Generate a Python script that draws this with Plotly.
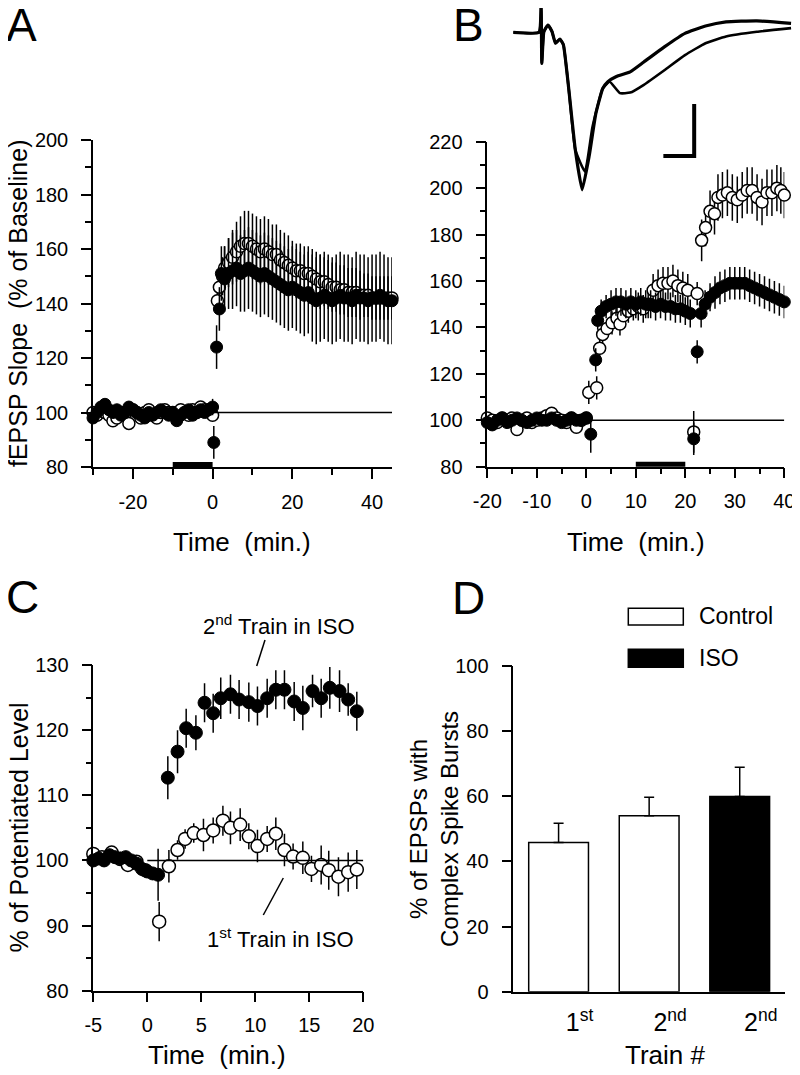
import plotly.graph_objects as go

FONT = "Liberation Sans, Arial, Helvetica, sans-serif"
OFF = 8                      # page body margin of the browser
W, H = 800 - OFF, 1075 - OFF

# ---------------- Panel A data (fEPSP slope, % of baseline) ----------------
a_filled_t = [-30, -29, -28, -27, -26, -25, -24, -23, -22, -21, -20, -19, -18, -17, -16, -15,
              -14, -13, -12, -11, -10, -9, -8, -7, -6, -5, -4, -3, -2, -1, 0,
              0.3, 1.0, 1.7, 2.2,
              3, 4, 5, 6, 7, 8, 9, 10, 11, 12, 13, 14, 15, 16, 17, 18, 19, 20, 21, 22, 23, 24,
              25, 26, 27, 28, 29, 30, 31, 32, 33, 34, 35, 36, 37, 38, 39, 40, 41, 42, 43, 44, 45]
a_filled_y = [98, 100, 102, 103, 101, 100, 101, 99, 100, 102, 101, 100, 99, 98, 100, 99,
              100, 101, 100, 99, 100, 97, 99, 100, 101, 99, 100, 101, 100, 101, 102,
              89, 124, 138, 151,
              149, 151, 152, 153, 151, 152, 153, 152, 151, 150, 151, 150, 149, 148, 147, 146, 145, 146, 145, 144, 143, 144,
              142, 141, 142, 143, 142, 141, 142, 143, 142, 142, 141, 143, 142, 142, 141, 142, 142, 143, 142, 141, 141]
a_filled_e = [2, 2, 2, 2, 2, 2, 2, 2, 2, 2, 2, 2, 2, 2, 2, 2,
              2, 2, 2, 2, 2, 2, 2, 2, 2, 2, 2, 2, 2, 2, 3,
              6, 8, 8, 10,
              12, 13, 14, 14, 14, 15, 15, 15, 15, 15, 15, 15, 15, 15, 15, 15, 15, 15, 15, 15, 15, 15,
              16, 16, 16, 16, 16, 16, 16, 16, 16, 16, 16, 16, 16, 16, 16, 16, 16, 16, 16, 16, 16]

a_open_t = [-30, -29, -28, -27, -26, -25, -24, -23, -22, -21, -20, -19, -18, -17, -16, -15,
            -14, -13, -12, -11, -10, -9, -8, -7, -6, -5, -4, -3, -2, -1, 0,
            1.2, 1.7, 2.5,
            3, 4, 5, 6, 7, 8, 9, 10, 11, 12, 13, 14, 15, 16, 17, 18, 19, 20, 21, 22, 23, 24,
            25, 26, 27, 28, 29, 30, 31, 32, 33, 34, 35, 36, 37, 38, 39, 40, 41, 42, 43, 44, 45]
a_open_y = [100, 99, 101, 100, 99, 97, 98, 100, 99, 96, 101, 100, 98, 100, 101, 99,
            98, 100, 101, 100, 100, 99, 101, 100, 99, 101, 100, 102, 101, 101, 99,
            141, 146, 150,
            153, 155, 157, 159, 161, 162, 162, 161, 160, 159, 160, 159, 158, 158, 156, 155, 154, 153, 152, 152, 151, 151,
            150, 149, 148, 148, 147, 146, 146, 145, 145, 144, 144, 144, 143, 143, 143, 142, 142, 142, 142, 142, 142]
a_open_e = [2, 2, 2, 2, 2, 2, 2, 2, 2, 2, 2, 2, 2, 2, 2, 2,
            2, 2, 2, 2, 2, 2, 2, 2, 2, 2, 2, 2, 2, 2, 2,
            4, 5, 7,
            8, 9, 10, 11, 11, 12, 12, 12, 12, 12, 12, 12, 11, 11, 11, 11, 11, 10, 10, 10, 10, 10,
            10, 10, 10, 9, 9, 9, 9, 9, 9, 9, 9, 9, 9, 8, 8, 8, 8, 8, 8, 8, 8]
a_iso_period = [-10, 0]

# ---------------- Panel B data ----------------
b_filled_t = [-20, -19, -18, -17, -16, -15, -14, -13, -12, -11, -10, -9, -8, -7, -6, -5, -4, -3, -2, -1, 0,
              0.9, 1.9, 2.3,
              3, 4, 5, 6, 7, 8, 9, 10, 11, 12, 13, 14, 15, 16, 17, 18, 19, 20, 21,
              21.7, 22.4, 23.2,
              24, 25, 26, 27, 28, 29, 30, 31, 32, 33, 34, 35, 36, 37, 38, 39, 40]
b_filled_y = [99, 98, 100, 101, 99, 100, 101, 100, 99, 100, 101, 100, 100, 101, 100, 99, 100, 101, 100, 100, 101,
              94, 126, 143,
              147, 149, 150, 151, 151, 150, 151, 150, 151, 150, 150, 149, 150, 149, 149, 148, 148, 147, 146,
              92, 129.5, 146,
              150, 153, 155, 157, 158, 159, 159, 159, 159, 158, 157, 156, 155, 154, 153, 152, 151]
b_filled_e = [2, 2, 2, 2, 2, 2, 2, 2, 2, 2, 2, 2, 2, 2, 2, 2, 2, 2, 2, 2, 2,
              8, 5, 4,
              5, 5, 6, 6, 6, 6, 6, 6, 6, 6, 6, 6, 6, 6, 6, 6, 6, 6, 6,
              7, 5, 6,
              6, 6, 7, 7, 7, 7, 7, 7, 7, 7, 7, 7, 7, 7, 7, 7, 7]

b_open_t = [-20, -19, -18, -17, -16, -15, -14, -13, -12, -11, -10, -9, -8, -7, -6, -5, -4, -3, -2, -1, 0,
            0.5, 2.1, 2.7, 3.3, 4.2, 5.2, 6.2, 6.8, 7.5, 8.5, 9.5, 10.5, 11.5, 12.5, 13.5, 14.5, 15.5,
            16.5, 17.5, 18.5, 19.5, 20.5, 21.7, 22.4,
            23.3, 24.1, 25.0, 25.9, 26.6, 27.5, 28.5, 29.5, 30.5, 31.5, 32.5, 33.5, 34.5, 35.5,
            36.5, 37.5, 38.5, 39.3, 40.0]
b_open_y = [101, 100, 99, 101, 100, 101, 96, 100, 101, 99, 100, 101, 102, 103, 101, 100, 99, 101, 97, 100, 101,
            112, 114, 131, 137, 139.5, 142, 144, 141.5, 145, 147, 148, 149, 148, 150, 156, 158, 159,
            159, 160, 158, 157, 156, 95, 154.6,
            177.5, 183, 190, 189, 196, 197, 198, 196, 195, 197, 199, 199, 196, 194,
            198, 198, 200, 199, 197]
b_open_e = [2, 2, 2, 2, 2, 2, 2, 2, 2, 2, 2, 2, 2, 2, 2, 2, 2, 2, 2, 2, 2,
            5, 5, 4, 4, 4, 5, 5, 5, 5, 5, 5, 6, 6, 6, 7, 7, 7,
            7, 7, 7, 7, 7, 9, 5,
            9, 8, 9, 9, 10, 10, 10, 10, 10, 10, 10, 10, 10, 10,
            10, 10, 10, 10, 10]
b_iso_period = [10, 20]

# Example fEPSP traces (inset of B): time in ms, amplitude in mV
trace_common_t = [0.0, 2.5, 2.7, 2.77, 2.97, 3.37, 3.77, 4.1, 4.53, 4.87, 5.37, 6.03]
trace_common_v = [0.0, 0.0, 0.49, -0.6, 0.01, 0.14, 0.01, -0.21, -0.13, -0.24, -1.05, -2.26]
trace1_t = [6.7, 7.37, 8.03, 8.7, 9.2, 10.03, 11.37, 12.7, 14.7, 16.7, 18.7, 20.7, 23.7, 27.03]
trace1_v = [-3.03, -2.39, -1.56, -1.08, -0.95, -0.85, -0.76, -0.57, -0.28, -0.02, 0.12, 0.2, 0.22, 0.17]
trace2_t = [6.97, 7.7, 8.7, 9.37, 10.37, 11.37, 12.7, 14.7, 16.7, 18.7, 20.7, 23.7, 27.03]
trace2_v = [-2.68, -1.82, -1.08, -0.95, -1.17, -1.16, -1.01, -0.73, -0.44, -0.21, -0.08, 0.01, 0.08]
scalebar_origin = [17.6, -2.38]   # corner (ms, mV)
scalebar_ms = 3
scalebar_mv = 1

# ---------------- Panel C data ----------------
c_base_t = [-5, -4.5, -4, -3.5, -3, -2.5, -2, -1.5, -1, -0.5, 0, 0.5, 1.0]
c_base_y = [100, 100.3, 100, 100.8, 100.5, 100.3, 100.5, 100, 99.5, 98.7, 98.3, 98, 97.8]
c_base_e = [1, 1, 1, 1, 1, 1, 1, 1, 1, 1, 1, 1, 4]
c_obase_t = [-5, -4.2, -3.3, -2.5, -1.8, -1, -0.2]
c_obase_y = [101, 100.5, 101.2, 100.2, 99.3, 99.8, 98.5]
c_obase_e = [1, 1, 1, 1, 1, 1, 1]
c_train2_t = [1.9, 2.8, 3.6, 4.5, 5.3, 6.1, 6.8, 7.7, 8.5, 9.4, 10.2, 11.1, 11.9, 12.7, 13.6,
              14.4, 15.3, 16.1, 16.9, 17.8, 18.6, 19.4]
c_train2_y = [112.7, 116.7, 120.3, 119.6, 124.2, 122.6, 124.9, 125.5, 124.7, 124.3, 123.7, 124.9,
              126.2, 126.2, 124.4, 123.4, 126, 124.9, 126.5, 126, 124.7, 122.9]
c_train2_e = [3.3, 3.3, 3, 2.7, 3, 3, 3.2, 3, 3, 3, 3, 3, 3, 3, 3, 3.4, 2.5, 3, 3.2, 3.2, 2.5, 3]
c_train1_t = [1.1, 2.0, 2.8, 3.5, 4.3, 5.2, 6.1, 7.0, 7.7, 8.6, 9.4, 10.2, 11.1, 11.9, 12.7, 13.5,
              14.4, 15.2, 16.1, 16.8, 17.7, 18.6, 19.4]
c_train1_y = [90.6, 99.1, 101.6, 103.3, 104.2, 103.9, 104.6, 106.1, 105, 105.5, 103.7, 102.2, 103.3,
              104.1, 101.6, 100.6, 100.4, 98.7, 99.3, 98.5, 97.5, 98.2, 98.6]
c_train1_e = [3, 2.5, 1.5, 1.5, 1.5, 2.5, 2, 2.3, 2.5, 2.5, 2, 2.5, 2, 2.5, 2.5, 2, 2.5, 2, 3, 3, 3, 3, 3]

# ---------------- Panel D data ----------------
d_labels = ["1<sup>st</sup>", "2<sup>nd</sup>", "2<sup>nd</sup>"]
d_pos = [0, 1, 2]
d_values = [45.8, 54.0, 59.9]
d_errors = [5.9, 5.7, 9.0]
d_groups = ["Control", "Control", "ISO"]

# ---------------- helpers ----------------
def px(x):
    return (x - OFF) / W


def py(y):
    return 1 - (y - OFF) / H


BLACK = "black"
tickfont = dict(family=FONT, size=20, color=BLACK)


def axis(domain, rng, anchor, **kw):
    d = dict(domain=domain, range=rng, anchor=anchor, showline=True, linecolor=BLACK,
             linewidth=1.5, ticks="outside", ticklen=10, tickwidth=1.5, tickcolor=BLACK,
             showgrid=False, zeroline=False, tickfont=tickfont, fixedrange=True,
             automargin=False)
    d.update(kw)
    return d


def minor(dt, tick0=0):
    return dict(dtick=dt, tick0=tick0, ticks="outside", ticklen=6, tickwidth=1.5,
                tickcolor=BLACK, showgrid=False)


def err(arr):
    return dict(type="data", array=arr, visible=True, color=BLACK, thickness=1.5, width=0)


def filled(x, y, e, xa, ya, size=12):
    return go.Scatter(x=x, y=y, mode="markers", xaxis=xa, yaxis=ya, error_y=err(e),
                      marker=dict(symbol="circle", size=size, color=BLACK,
                                  line=dict(color=BLACK, width=1)),
                      cliponaxis=False, showlegend=False, hoverinfo="skip")


def opened(x, y, e, xa, ya, size=12):
    return go.Scatter(x=x, y=y, mode="markers", xaxis=xa, yaxis=ya, error_y=err(e),
                      marker=dict(symbol="circle", size=size, color="white",
                                  line=dict(color=BLACK, width=1.5)),
                      cliponaxis=False, showlegend=False, hoverinfo="skip")


fig = go.Figure()

# Panel A
fig.add_trace(opened(a_open_t, a_open_y, a_open_e, "x", "y"))
fig.add_trace(filled(a_filled_t, a_filled_y, a_filled_e, "x", "y"))

# Panel B
fig.add_trace(opened(b_open_t, b_open_y, b_open_e, "x2", "y2"))
fig.add_trace(filled(b_filled_t, b_filled_y, b_filled_e, "x2", "y2"))

# Inset traces
fig.add_trace(go.Scatter(x=trace_common_t + trace2_t, y=trace_common_v + trace2_v, mode="lines",
                         xaxis="x5", yaxis="y5", line=dict(color=BLACK, width=2.6, shape="spline", smoothing=0.4),
                         showlegend=False, hoverinfo="skip", cliponaxis=False))
fig.add_trace(go.Scatter(x=trace_common_t + trace1_t, y=trace_common_v + trace1_v, mode="lines",
                         xaxis="x5", yaxis="y5", line=dict(color=BLACK, width=3.2, shape="spline", smoothing=0.4),
                         showlegend=False, hoverinfo="skip", cliponaxis=False))
sb_x = [scalebar_origin[0] - scalebar_ms, scalebar_origin[0], scalebar_origin[0]]
sb_y = [scalebar_origin[1], scalebar_origin[1], scalebar_origin[1] + scalebar_mv]
fig.add_trace(go.Scatter(x=sb_x, y=sb_y, mode="lines", xaxis="x5", yaxis="y5",
                         line=dict(color=BLACK, width=4), showlegend=False, hoverinfo="skip",
                         cliponaxis=False))

# Panel C
fig.add_trace(opened(c_obase_t, c_obase_y, c_obase_e, "x3", "y3", 13))
fig.add_trace(filled(c_base_t, c_base_y, c_base_e, "x3", "y3", 13))
fig.add_trace(opened(c_train1_t, c_train1_y, c_train1_e, "x3", "y3", 13))
fig.add_trace(filled(c_train2_t, c_train2_y, c_train2_e, "x3", "y3", 13))

# Panel D
fig.add_trace(go.Bar(x=d_pos, y=d_values, width=0.66, xaxis="x4", yaxis="y4",
                     marker=dict(color=["white" if g == "Control" else BLACK for g in d_groups],
                                 line=dict(color=BLACK, width=1.5)),
                     error_y=dict(type="data", array=d_errors, arrayminus=[0 for _ in d_errors],
                                  symmetric=False, color=BLACK, thickness=1.5, width=5),
                     showlegend=False, hoverinfo="skip"))

layout = dict(
    template="none",
    width=W, height=H, autosize=False,
    margin=dict(l=0, r=0, t=0, b=0, pad=0),
    paper_bgcolor="white", plot_bgcolor="rgba(0,0,0,0)",
    font=dict(family=FONT, color=BLACK),
    xaxis=axis([px(93), px(392)], [-30, 45], "y", tickmode="array",
               tickvals=[-20, 0, 20, 40], ticktext=["-20", "0", "20", "40"],
               minor=minor(10), ticklabelstandoff=6),
    yaxis=axis([py(467), py(140)], [80, 200], "x", tickmode="array",
               tickvals=[80, 100, 120, 140, 160, 180, 200], minor=minor(10), ticklabelstandoff=9),
    xaxis2=axis([px(487.3), px(784.3)], [-20, 40], "y2", tickmode="array",
                tickvals=[-20, -10, 0, 10, 20, 30, 40],
                ticktext=["-20", "-10", "0", "10", "20", "30", "40"],
                minor=minor(5), ticklabelstandoff=6),
    yaxis2=axis([py(466.7), py(141.7)], [80, 220], "x2", tickmode="array",
                tickvals=[80, 100, 120, 140, 160, 180, 200, 220], minor=minor(10), ticklabelstandoff=9),
    xaxis3=axis([px(93.3), px(363.3)], [-5, 20], "y3", tickmode="array",
                tickvals=[-5, 0, 5, 10, 15, 20], ticktext=["-5", "0", "5", "10", "15", "20"],
                ticklabelstandoff=6),
    yaxis3=axis([py(990.7), py(665)], [80, 130], "x3", tickmode="array",
                tickvals=[80, 90, 100, 110, 120, 130], minor=minor(5), ticklabelstandoff=9),
    xaxis4=axis([px(513.3), px(785)], [-0.5, 2.5], "y4", tickmode="array",
                tickvals=d_pos, ticktext=d_labels, ticks="",
                tickfont=dict(family=FONT, size=25, color=BLACK),
                ticklabelshift=21, ticklabelstandoff=8),
    yaxis4=axis([py(991.7), py(666)], [0, 100], "x4", tickmode="array",
                tickvals=[0, 20, 40, 60, 80, 100], ticklabelstandoff=9),
    xaxis5=dict(domain=[px(500), 1.0], range=[-1.3, 28.7 - OFF / 10.0], anchor="y5", visible=False,
                fixedrange=True, automargin=False),
    yaxis5=dict(domain=[py(200), 1.0], range=[-3.225, 0.621 - OFF / 52.0], anchor="x5", visible=False,
                fixedrange=True, automargin=False),
)

shapes = []
# baseline reference lines at 100 %
shapes.append(dict(type="line", xref="x", yref="y", x0=0, x1=45, y0=100, y1=100,
                   line=dict(color=BLACK, width=1.5)))
shapes.append(dict(type="line", xref="x2", yref="y2", x0=0, x1=40, y0=100, y1=100,
                   line=dict(color=BLACK, width=1.5)))
shapes.append(dict(type="line", xref="x3", yref="y3", x0=0, x1=20, y0=100, y1=100,
                   line=dict(color=BLACK, width=1.5)))
# drug application bars
shapes.append(dict(type="rect", xref="x", yref="y", x0=a_iso_period[0], x1=a_iso_period[1],
                   ysizemode="pixel", yanchor=80, y0=-1, y1=5, fillcolor=BLACK, line=dict(width=0)))
shapes.append(dict(type="rect", xref="x2", yref="y2", x0=b_iso_period[0], x1=b_iso_period[1],
                   ysizemode="pixel", yanchor=80, y0=-1, y1=5, fillcolor=BLACK, line=dict(width=0)))
# pointer lines in C
shapes.append(dict(type="line", xref="paper", yref="paper", x0=px(265), y0=py(640),
                   x1=px(256.7), y1=py(666), line=dict(color=BLACK, width=1.5)))
shapes.append(dict(type="line", xref="paper", yref="paper", x0=px(283.3), y0=py(878),
                   x1=px(263.3), y1=py(915), line=dict(color=BLACK, width=1.5)))
# legend boxes in D
shapes.append(dict(type="rect", xref="paper", yref="paper", x0=px(628.3), x1=px(683.3),
                   y0=py(625), y1=py(608.3), fillcolor="white", line=dict(color=BLACK, width=1.5)))
shapes.append(dict(type="rect", xref="paper", yref="paper", x0=px(628.3), x1=px(683.3),
                   y0=py(667.3), y1=py(649.3), fillcolor=BLACK, line=dict(color=BLACK, width=1.5)))
layout["shapes"] = shapes


def ann(text, x, y, size, angle=0, xanchor="center"):
    return dict(text=text, x=px(x), y=py(y), xref="paper", yref="paper", showarrow=False,
                xanchor=xanchor, yanchor="middle", textangle=angle,
                font=dict(family=FONT, size=size, color=BLACK))


nb = "\u00a0"
annotations = [
    ann("A", 21, 25, 46), ann("B", 468, 25, 46), ann("C", 22, 597, 46), ann("D", 468, 598, 46),
    ann("Time" + nb + " (min.)", 241.5, 541.7, 26),
    ann("Time" + nb + " (min.)", 635.8, 541.7, 26),
    ann("Time" + nb + " (min.)", 216.7, 1055, 26),
    ann("Train #", 665, 1055, 26),
    ann("fEPSP Slope" + nb + " (% of Baseline)", 17.5, 303.5, 25, -90),
    ann("% of Potentiated Level", 18.5, 828, 25, -90),
    ann("% of EPSPs with<br>Complex Spike Bursts", 434, 829, 24, -90),
    ann("2<sup>nd</sup> Train in ISO", 279, 625, 22),
    ann("1<sup>st</sup> Train in ISO", 280, 938, 22),
    ann("Control", 696.7, 616, 23, xanchor="left"),
    ann("ISO", 696.7, 658, 23, xanchor="left"),
]
layout["annotations"] = annotations

fig.update_layout(**layout)
fig.write_html("out.html")
